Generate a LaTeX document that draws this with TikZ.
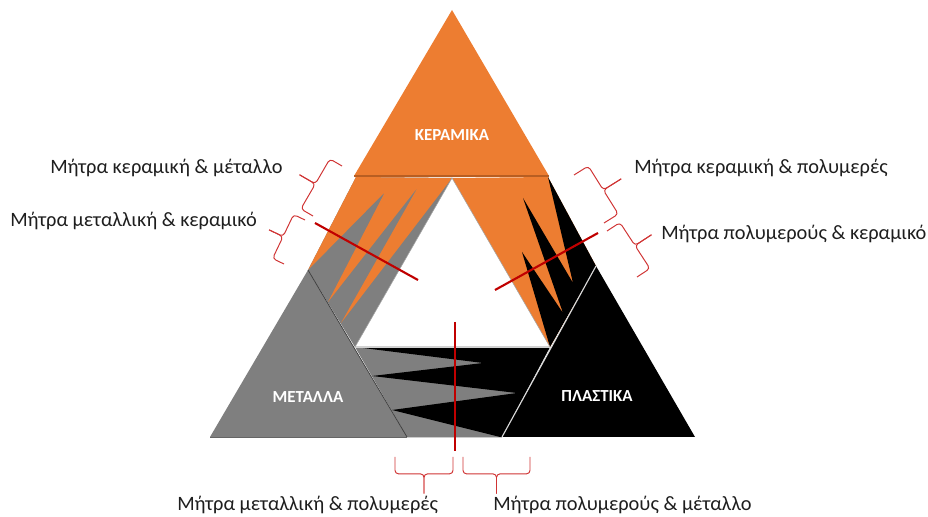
\documentclass[tikz,border=0pt]{standalone}
\usepackage{fontspec}
\setmainfont{Carlito}
\usetikzlibrary{calc}
\definecolor{orng}{HTML}{ED7D31}
\definecolor{orngdk}{HTML}{B85E22}
\definecolor{gry}{HTML}{7F7F7F}
\definecolor{gryedge}{HTML}{3A3A3A}
\definecolor{redln}{HTML}{C00000}
\definecolor{brc}{HTML}{D03434}
\definecolor{txt}{HTML}{1E1E1E}
% #1 start, #2 end, #3 half amplitude, #4 full amplitude (brace bulges to the left of #1->#2)
\newcommand\bracebetween[4]{%
  \draw[bracestyle] (#1) -- ($(#1)!#3!90:(#2)$) -- ($($(#1)!0.5!(#2)$)!#3!90:(#2)$) -- ($($(#1)!0.5!(#2)$)!#4!90:(#2)$);
  \draw[bracestyle] (#2) -- ($(#2)!#3!-90:(#1)$) -- ($($(#1)!0.5!(#2)$)!#3!90:(#2)$) -- ($($(#1)!0.5!(#2)$)!#4!90:(#2)$);}
\begin{document}
\begin{tikzpicture}[x=0.025cm,y=-0.025cm,
  redline/.style={draw=redln,line width=1.5pt},
  bracestyle/.style={draw=brc,line width=0.7pt,rounded corners=2.5pt,line join=round},
  label/.style={inner sep=0pt,text=txt,font=\fontsize{14.5}{16}\selectfont},
  matlabel/.style={inner sep=0pt,text=white,font=\fontsize{12}{14}\selectfont\bfseries}]
\useasboundingbox (0,0) rectangle (928,517);
% key points
\coordinate (TL) at (356,177);
\coordinate (B) at (452,178);
\coordinate (LB) at (355,347);
\coordinate (MA) at (308,270);
\coordinate (O1) at (328,302);
\coordinate (O2) at (341,323);
\coordinate (G1) at (385,192);
\coordinate (G2) at (418,187);
\coordinate (P2) at (548,177);
\coordinate (P3) at (596,266);
\coordinate (RB) at (550,347);
\coordinate (A1) at (573,283);
\coordinate (T1) at (523,198);
\coordinate (A2) at (563,313);
\coordinate (T2) at (522,252);
\coordinate (PB) at (502,437);
\coordinate (MB) at (407,437);
\coordinate (GB0) at (500,437);
\coordinate (K2) at (372,376);
\coordinate (K3) at (392,410);
\coordinate (Gb1) at (483,363);
\coordinate (Gb2) at (517,393);
\coordinate (KT) at (452,10);
\coordinate (KL) at (354,176);
\coordinate (KR) at (549,176);
\coordinate (ML) at (210,437);
\coordinate (PR) at (695,437);
% left band
\fill[gry] (TL) -- (B) -- (LB) -- (MA) -- cycle;
\fill[orng] (TL) -- (B) -- (O2) -- (G2) -- (O1) -- (G1) -- (MA) -- cycle;
% right band
\fill[orng] (B) -- (P2) -- (P3) -- (RB) -- cycle;
\fill[black] (P2) -- (A1) -- (T1) -- (A2) -- (T2) -- (RB) -- (P3) -- cycle;
% bottom band
\fill[gry] (LB) -- (RB) -- (PB) -- (MB) -- cycle;
\fill[black] (LB) -- (RB) -- (PB) -- (GB0) -- (K3) -- (Gb2) -- (K2) -- (Gb1) -- cycle;
% inner triangle edges
\draw[gray!70,line width=0.4pt] (LB) -- (B) -- (RB);
\draw[gray!35,line width=0.6pt] (LB) -- (RB);
% corner triangles
\fill[orng] (KT) -- (KL) -- (KR) -- cycle;
\draw[orngdk,line width=1.2pt] (KL) -- (KR);
\fill[gry] (MA) -- (ML) -- (MB) -- cycle;
\draw[gryedge,line width=0.5pt] (MA) -- (MB);
\draw[gry!80!black,line width=0.5pt] (ML) -- (MB);
\fill[black] (P3) -- (PB) -- (PR) -- cycle;
\draw[gray!30,line width=0.8pt] (P3) -- (PB);
\draw[gray!40,line width=0.5pt] (MB) -- (PB);
% material labels
\node[matlabel] (ker) at (452,135) {ΚΕΡΑΜΙΚΑ};
\node[matlabel] (met) at (308,397) {ΜΕΤΑΛΛΑ};
\node[matlabel] (pla) at (597,396) {ΠΛΑΣΤΙΚΑ};
% red cut lines
\coordinate (r1a) at (315,223); \coordinate (r1b) at (418,280);
\coordinate (r2a) at (495,290); \coordinate (r2b) at (598,233);
\coordinate (r3a) at (455,322); \coordinate (r3b) at (455,451);
\draw[redline] (r1a) -- (r1b);
\draw[redline] (r2a) -- (r2b);
\draw[redline] (r3a) -- (r3b);
% braces
\coordinate (l1a) at (342,166); \coordinate (l1b) at (313,216);
\coordinate (l2a) at (305,220); \coordinate (l2b) at (284,264);
\coordinate (q1a) at (574,175); \coordinate (q1b) at (604,223);
\coordinate (q2a) at (607,231); \coordinate (q2b) at (637,277);
\coordinate (b1a) at (395,457); \coordinate (b1b) at (453,457);
\coordinate (b2a) at (463,457); \coordinate (b2b) at (530,457);
\bracebetween{l1b}{l1a}{10pt}{23pt}
\bracebetween{l2b}{l2a}{9pt}{20pt}
\bracebetween{q1a}{q1b}{12pt}{27pt}
\bracebetween{q2a}{q2b}{11pt}{25pt}
\bracebetween{b1b}{b1a}{12pt}{26pt}
\bracebetween{b2b}{b2a}{12pt}{26pt}
% texts
\node[label,anchor=base west] (t1) at (50,174) {Μήτρα κεραμική \& μέταλλο};
\node[label,anchor=base west] (t2) at (10,227) {Μήτρα μεταλλική \& κεραμικό};
\node[label,anchor=base west] (t3) at (634,174) {Μήτρα κεραμική \& πολυμερές};
\node[label,anchor=base west] (t4) at (661,240) {Μήτρα πολυμερούς \& κεραμικό};
\node[label,anchor=base west] (t5) at (177,511) {Μήτρα μεταλλική \& πολυμερές};
\node[label,anchor=base west] (t6) at (493,511) {Μήτρα πολυμερούς \& μέταλλο};
\end{tikzpicture}
\end{document}
